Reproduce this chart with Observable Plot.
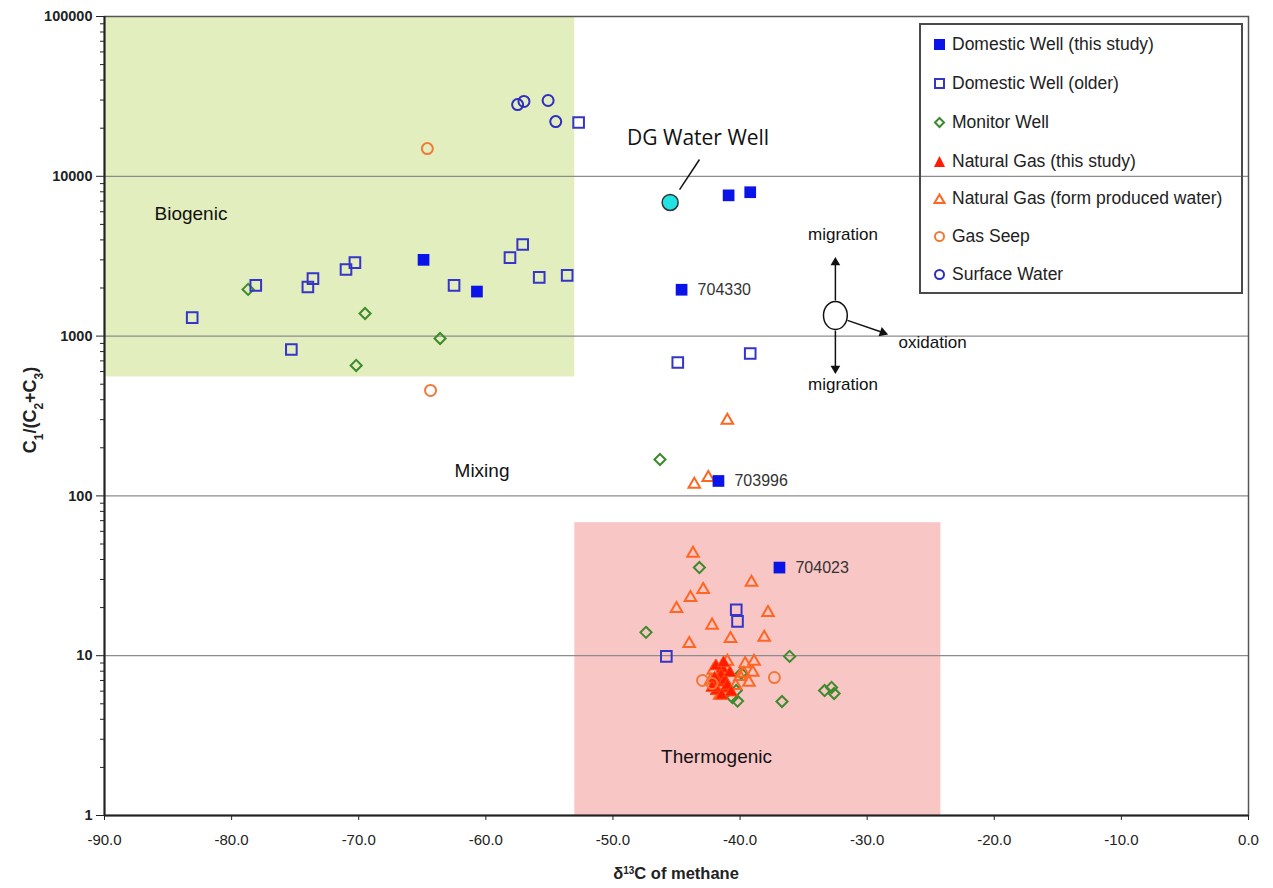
<!DOCTYPE html>
<html><head><meta charset="utf-8">
<script src="https://cdn.jsdelivr.net/npm/d3@7"></script>
<script src="https://cdn.jsdelivr.net/npm/@observablehq/plot@0.6"></script>
<style>
body{margin:0;background:#fff;font-family:Arial,"Liberation Sans",sans-serif;}
#wrap{position:relative;width:1273px;height:888px;}
#legend{position:absolute;left:919px;top:23px;width:324px;height:271px;border:2px solid #4a4a4a;box-sizing:border-box;}
.li{position:absolute;left:12px;font-size:17.5px;color:#222;height:20px;line-height:20px;white-space:nowrap;}
.li svg{position:absolute;left:0;top:4px;}
.li span{position:absolute;left:19px;top:0;}
</style></head><body><div id="wrap"><div id="legend"></div></div>
<script>
// ---------- data ----------
const dwThisX = [-64.9, -60.7, -44.6, -40.9, -39.2, -41.7, -36.9];
const dwThisY = [3000, 1900, 1950, 7600, 7950, 124, 35.6];
const dwThisLabel = ["", "", "704330", "", "", "703996", "704023"];

const dwOldX = [-83.1, -78.1, -75.3, -74.0, -73.6, -71.0, -70.3, -62.5, -58.1, -57.1, -55.8, -53.6, -52.7, -44.9, -39.2, -40.3, -40.2, -45.8];
const dwOldY = [1306, 2075, 824, 2030, 2290, 2610, 2880, 2075, 3100, 3740, 2330, 2400, 21700, 684, 778, 19.4, 16.4, 9.9];

const mwX = [-78.7, -69.5, -70.2, -63.6, -46.3, -43.2, -47.4, -36.1, -36.7, -33.35, -32.8, -32.6, -39.9, -40.3, -40.6, -40.2];
const mwY = [1960, 1385, 655, 966, 169, 35.6, 14.0, 9.9, 5.17, 6.05, 6.33, 5.8, 7.75, 6.05, 5.47, 5.2];

const ngThisX = [-41.4, -41.5, -41.7, -41.2, -41.85, -41.1, -41.45, -42.0, -40.8, -41.0, -42.2, -40.7, -41.9, -41.3];
const ngThisY = [8.3, 7.5, 6.8, 7.0, 6.05, 6.24, 5.64, 7.2, 7.8, 6.5, 6.3, 5.9, 8.6, 9.0];

const ngPwX = [-41.0, -42.5, -43.6, -43.7, -39.1, -42.9, -43.9, -45.0, -37.8, -42.2, -40.75, -38.1, -44.0, -41.0, -39.6, -38.9, -39.0, -39.7, -39.3, -40.0, -41.6, -41.8, -42.3, -40.35, -42.1];
const ngPwY = [297, 130, 118, 43.6, 28.7, 25.9, 23.1, 19.7, 18.6, 15.5, 12.8, 13.0, 11.9, 9.2, 8.9, 9.2, 7.85, 7.75, 6.8, 7.4, 5.64, 6.05, 7.0, 6.5, 8.1];

const gsX = [-64.6, -64.35, -42.95, -42.2, -37.3];
const gsY = [14900, 457, 7.0, 6.7, 7.3];

const swX = [-57.5, -57.0, -55.1, -54.5];
const swY = [28100, 29400, 29800, 22000];

const dgX = [-45.5];
const dgY = [6860];

const xTicks = [-90, -80, -70, -60, -50, -40, -30, -20, -10, 0];
const yTicks = [1, 10, 100, 1000, 10000, 100000];
const gridY = [10, 100, 1000, 10000];

const zoneLabels = ["Biogenic", "Mixing", "Thermogenic"];
const zoneX = [-83.2, -60.3, -41.85];
const zoneY = [5850, 144, 2.31];

const legendNames = ["Domestic Well (this study)", "Domestic Well (older)", "Monitor Well", "Natural Gas (this study)", "Natural Gas (form produced water)", "Gas Seep", "Surface Water"];
const legendColors = ["#0a14e8", "#3535c8", "#3d8a2c", "#ff1a00", "#ff6622", "#f07a3a", "#2d2dc0"];

// ---------- build ----------
const pts = (xs, ys, extra = []) => xs.map((x, i) => ({x, y: ys[i], label: extra[i] ?? ""}));
const dwThis = pts(dwThisX, dwThisY, dwThisLabel);
const dwOld = pts(dwOldX, dwOldY);
const mw = pts(mwX, mwY);
const ngThis = pts(ngThisX, ngThisY);
const ngPw = pts(ngPwX, ngPwY);
const gs = pts(gsX, gsY);
const sw = pts(swX, swY);
const dg = pts(dgX, dgY);
const zones = zoneLabels.map((t, i) => ({t, x: zoneX[i], y: zoneY[i]}));

const minorY = [];
for (let d = 1; d < 100000; d *= 10) for (let k = 2; k <= 9; k++) minorY.push(d * k);

const ellipse = {
  draw(ctx, size) {
    const r = Math.sqrt(size / Math.PI), rx = r * 0.85, ry = r, k = 0.5523;
    ctx.moveTo(rx, 0);
    ctx.bezierCurveTo(rx, k * ry, k * rx, ry, 0, ry);
    ctx.bezierCurveTo(-k * rx, ry, -rx, k * ry, -rx, 0);
    ctx.bezierCurveTo(-rx, -k * ry, -k * rx, -ry, 0, -ry);
    ctx.bezierCurveTo(k * rx, -ry, rx, -k * ry, rx, 0);
    ctx.closePath();
  }
};

const chart = Plot.plot({
  width: 1273, height: 888,
  marginLeft: 104, marginRight: 25, marginTop: 16, marginBottom: 73,
  x: {domain: [-90, 0]},
  y: {type: "log", domain: [1, 100000]},
  style: {fontFamily: "Arial, 'Liberation Sans', sans-serif", fontSize: "14px", color: "#222", background: "white"},
  marks: [
    Plot.rect([0], {x1: -90, x2: -53, y1: 555, y2: 100000, fill: "#e3eebf", ariaLabel: "biozone"}),
    Plot.rect([0], {x1: -53, x2: -24.2, y1: 1, y2: 68, fill: "#f9c6c6", ariaLabel: "thermozone"}),
    Plot.ruleY(gridY, {stroke: "#8c8c8c", strokeWidth: 1.3}),
    Plot.frame({stroke: "#555", strokeWidth: 1.5}),
    Plot.axisX({ticks: xTicks, tickFormat: d => d.toFixed(1), tickSize: 5, tickPadding: 14, label: null, fontSize: 15,
      fontFamily: "'Liberation Sans Narrow', 'Arial Narrow', Arial, sans-serif"}),
    Plot.axisY({ticks: yTicks, tickFormat: d => String(d), tickSize: 8, tickPadding: 4, label: null, fontSize: 14.5, fontWeight: "bold"}),
    Plot.axisY({ticks: minorY, tickFormat: () => "", tickSize: 4, label: null}),
    Plot.ruleX([-90], {stroke: "#222", strokeWidth: 2}),
    Plot.ruleY([1], {stroke: "#222", strokeWidth: 2}),
    // zone labels
    Plot.text(zones, {x: "x", y: "y", text: "t", fontSize: 19, fill: "#111"}),
    // series
    Plot.dot(mw, {x: "x", y: "y", symbol: "diamond2", r: 5, stroke: legendColors[2], strokeWidth: 2, fill: "none"}),
    Plot.dot(ngPw, {x: "x", y: "y", symbol: "triangle", r: 4.3, stroke: legendColors[4], strokeWidth: 2, fill: "none"}),
    Plot.dot(ngThis, {x: "x", y: "y", symbol: "triangle", r: 4.6, fill: legendColors[3], stroke: "#ff4a10", strokeWidth: 1}),
    Plot.dot(gs, {x: "x", y: "y", symbol: "circle", r: 5.5, stroke: legendColors[5], strokeWidth: 2, fill: "none"}),
    Plot.dot(dwOld, {x: "x", y: "y", symbol: "square", r: 6, stroke: legendColors[1], strokeWidth: 2, fill: "none"}),
    Plot.dot(dwThis, {x: "x", y: "y", symbol: "square", r: 6.6, fill: legendColors[0]}),
    Plot.dot(sw, {x: "x", y: "y", symbol: "circle", r: 5.5, stroke: legendColors[6], strokeWidth: 2, fill: "none"}),
    Plot.text(dwThis.filter(d => d.label), {x: "x", y: "y", text: "label", dx: 16, textAnchor: "start", fontSize: 16, fill: "#333"}),
    // DG water well
    Plot.link([0], {x1: -44.76, y1: 8260, x2: -43.19, y2: 12740, stroke: "#111", strokeWidth: 1.5}),
    Plot.dot(dg, {x: "x", y: "y", r: 8, fill: "#22e3e3", stroke: "#333", strokeWidth: 1.5}),
    Plot.text([0], {x: -43.3, y: 17300, text: () => "DG Water Well", fontSize: 21, fontFamily: "'Open Sans', 'DejaVu Sans', sans-serif", fill: "#111"}),
    // migration / oxidation annotation
    Plot.link([0], {x1: -32.5, y1: 1670, x2: -32.5, y2: 2885, stroke: "#111", strokeWidth: 1.5}),
    Plot.link([0], {x1: -32.5, y1: 1084, x2: -32.5, y2: 627, stroke: "#111", strokeWidth: 1.5}),
    Plot.link([0], {x1: -31.55, y1: 1254, x2: -28.77, y2: 1052, stroke: "#111", strokeWidth: 1.5}),
    Plot.dot([0], {x: -32.5, y: 2885, symbol: "triangle", r: 3.6, fill: "#111", rotate: 0}),
    Plot.dot([0], {x: -32.5, y: 627, symbol: "triangle", r: 3.6, fill: "#111", rotate: 180}),
    Plot.dot([0], {x: -28.77, y: 1052, symbol: "triangle", r: 3.6, fill: "#111", rotate: 109}),
    Plot.dot([0], {x: -32.5, y: 1346, symbol: ellipse, r: 14, fill: "white", stroke: "#111", strokeWidth: 1.5}),
    Plot.text([0], {x: -31.9, y: 4325, text: () => "migration", fontSize: 17, fill: "#111"}),
    Plot.text([0], {x: -31.9, y: 498, text: () => "migration", fontSize: 17, fill: "#111"}),
    Plot.text([0], {x: -24.85, y: 912, text: () => "oxidation", fontSize: 17, fill: "#111"})
  ]
});

// patterns for the shaded zones
const svg = d3.select(chart);
const defs = svg.insert("defs", ":first-child");
function grid(id, base, line) {
  const p = defs.append("pattern").attr("id", id).attr("width", 5).attr("height", 5).attr("patternUnits", "userSpaceOnUse");
  p.append("rect").attr("width", 5).attr("height", 5).attr("fill", base);
  p.append("path").attr("d", "M0,0.5H5M0.5,0V5").attr("stroke", line).attr("stroke-width", 1);
}
grid("gpat", "#e4efc2", "#f0f6dc");
grid("ppat", "#f8c3c3", "#fcdada");
svg.select("g[aria-label=biozone] rect").attr("fill", "url(#gpat)");
svg.select("g[aria-label=thermozone] rect").attr("fill", "url(#ppat)");

// axis titles
const yt = svg.append("text").attr("transform", "translate(36,410) rotate(-90)").attr("text-anchor", "middle")
  .attr("font-weight", "bold").attr("font-size", 18).attr("fill", "#222");
yt.append("tspan").text("C");
yt.append("tspan").attr("baseline-shift", "sub").attr("font-size", 12).text("1");
yt.append("tspan").text("/(C");
yt.append("tspan").attr("baseline-shift", "sub").attr("font-size", 12).text("2");
yt.append("tspan").text("+C");
yt.append("tspan").attr("baseline-shift", "sub").attr("font-size", 12).text("3");
yt.append("tspan").text(")");
const xt = svg.append("text").attr("x", 676).attr("y", 879).attr("text-anchor", "middle")
  .attr("font-weight", "bold").attr("font-size", 16.5).attr("fill", "#222");
xt.append("tspan").text("δ");
xt.append("tspan").attr("baseline-shift", "super").attr("font-size", 10).text("13");
xt.append("tspan").text("C of methane");

document.getElementById("wrap").prepend(chart);

// legend
const legend = document.getElementById("legend");
const rowsY = [19, 58, 97, 136, 173, 211, 249];
const syms = [
  c => `<rect x="1" y="1" width="11" height="11" fill="${c}"/>`,
  c => `<rect x="2" y="2" width="9" height="9" fill="none" stroke="${c}" stroke-width="2"/>`,
  c => `<path d="M6.5,2L11,6.5L6.5,11L2,6.5Z" fill="none" stroke="${c}" stroke-width="2"/>`,
  c => `<path d="M6.5,1L12,12H1Z" fill="${c}"/>`,
  c => `<path d="M6.5,2.5L11.5,11H1.5Z" fill="none" stroke="${c}" stroke-width="2"/>`,
  c => `<circle cx="6.5" cy="6.5" r="4.5" fill="none" stroke="${c}" stroke-width="2"/>`,
  c => `<circle cx="6.5" cy="6.5" r="4.5" fill="none" stroke="${c}" stroke-width="2"/>`
];
legendNames.forEach((n, i) => {
  const d = document.createElement("div");
  d.className = "li";
  d.style.top = (rowsY[i] - 10) + "px";
  d.innerHTML = `<svg width="13" height="13">${syms[i](legendColors[i])}</svg><span>${n}</span>`;
  legend.appendChild(d);
});
</script>
</body></html>
